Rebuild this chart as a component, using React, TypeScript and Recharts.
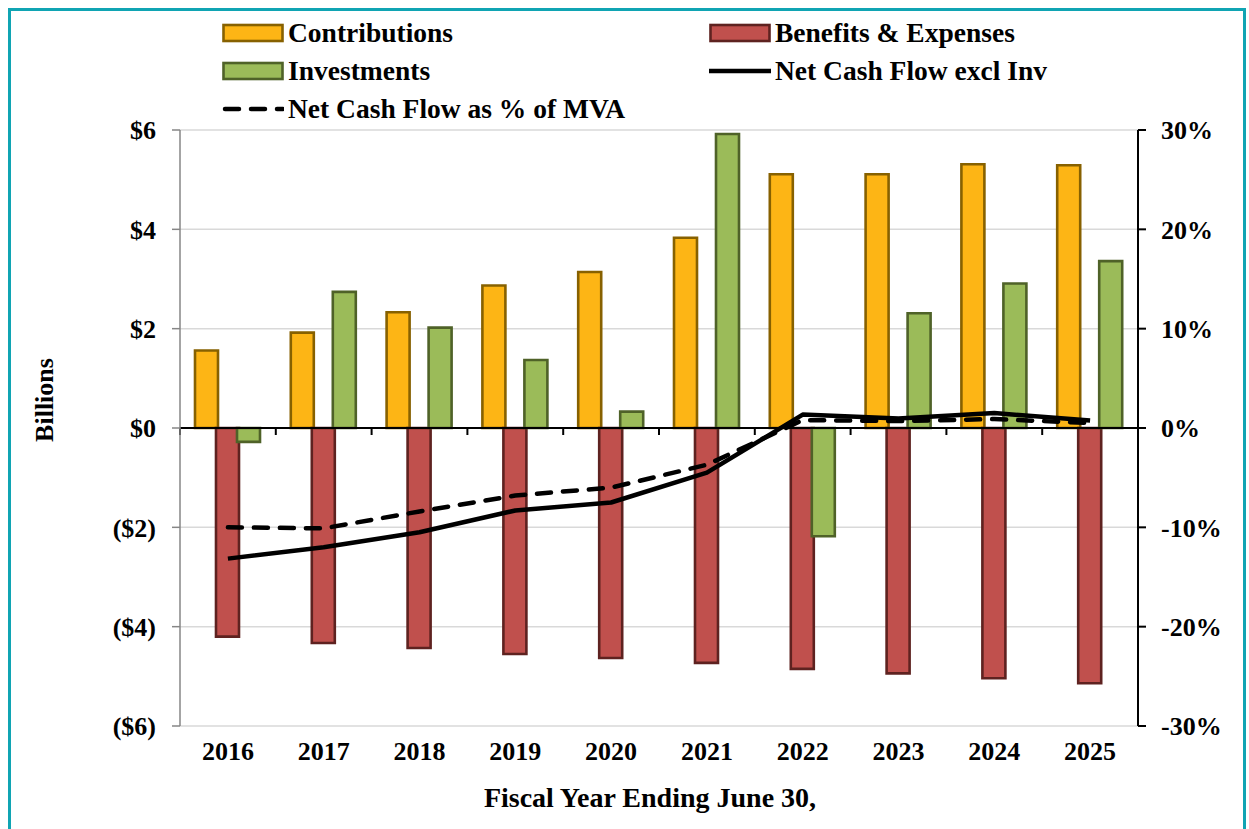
import React from 'react';
import { ComposedChart, Bar, Line, XAxis, YAxis, CartesianGrid, ReferenceLine } from 'recharts';

const years = ['2016', '2017', '2018', '2019', '2020', '2021', '2022', '2023', '2024', '2025'];
const contributions = [1.56, 1.92, 2.33, 2.87, 3.14, 3.83, 5.11, 5.11, 5.31, 5.29];
const benefitsExpenses = [-4.2, -4.33, -4.43, -4.55, -4.63, -4.73, -4.85, -4.94, -5.04, -5.14];
const investments = [-0.28, 2.74, 2.02, 1.37, 0.33, 5.92, -2.18, 2.31, 2.91, 3.36];
const netCashFlowExclInv = [-2.63, -2.4, -2.1, -1.66, -1.5, -0.9, 0.27, 0.19, 0.3, 0.15];
const netCashFlowPctMVA = [-0.1, -0.101, -0.084, -0.068, -0.06, -0.037, 0.008, 0.007, 0.009, 0.005];

const leftTicks = [-6, -4, -2, 0, 2, 4, 6];
const leftTickLabels = ['($6)', '($4)', '($2)', '$0', '$2', '$4', '$6'];
const rightTicks = [-0.3, -0.2, -0.1, 0, 0.1, 0.2, 0.3];
const rightTickLabels = ['-30%', '-20%', '-10%', '0%', '10%', '20%', '30%'];

const data = years.map((year, i) => ({
  year,
  contributions: contributions[i],
  benefits: benefitsExpenses[i],
  investments: investments[i],
  net: netCashFlowExclInv[i],
  pct: netCashFlowPctMVA[i],
}));

const FONT = "'Liberation Serif', 'Times New Roman', Times, serif";
const FS = 26;
const LEGEND_FS = 27.5;
const TITLE_FS = 28;

const C_FILL = '#FDB515';
const C_STROKE = '#876100';
const B_FILL = '#C0504D';
const B_STROKE = '#5E2220';
const I_FILL = '#9BBB59';
const I_STROKE = '#4F6228';
const BAR_SW = 2.6;

function ZeroLine(props: any) {
  const { x1, y1, x2, y2 } = props;
  const n = years.length;
  const ticks = [];
  for (let i = 0; i <= n; i++) {
    const x = x1 + ((x2 - x1) * i) / n;
    ticks.push(<line key={i} x1={x} x2={x} y1={y1} y2={y1 + 7} stroke="#000" strokeWidth={2} />);
  }
  return (
    <g>
      <line x1={x1} y1={y1} x2={x2} y2={y2} stroke="#000" strokeWidth={2} />
      {ticks}
    </g>
  );
}

const tickStyle = { fontFamily: FONT, fontSize: FS, fontWeight: 700, fill: '#000' };

function LegendItem({ left, centerY, kind, fill, stroke, label }: any) {
  return (
    <div
      style={{
        position: 'absolute',
        left,
        top: centerY - 19,
        height: 38,
        display: 'flex',
        alignItems: 'center',
        whiteSpace: 'nowrap',
      }}
    >
      <svg width={62} height={20} style={{ display: 'block' }}>
        {kind === 'rect' && <rect x={1.5} y={2} width={59} height={16} fill={fill} stroke={stroke} strokeWidth={2.6} />}
        {kind === 'line' && <line x1={0} x2={62} y1={10} y2={10} stroke="#000" strokeWidth={4.5} />}
        {kind === 'dash' && (
          <line x1={3} x2={61} y1={10} y2={10} stroke="#000" strokeWidth={4.5} strokeDasharray="14 12" strokeLinecap="round" />
        )}
      </svg>
      <span style={{ marginLeft: 4, fontFamily: FONT, fontSize: LEGEND_FS, fontWeight: 700, color: '#000', lineHeight: '38px' }}>
        {label}
      </span>
    </div>
  );
}

export default function App() {
  return (
    <div
      style={{
        position: 'absolute',
        left: 8,
        top: 8,
        width: 1238,
        height: 821,
        boxSizing: 'border-box',
        borderTop: '3px solid #10A4B3',
        borderLeft: '3px solid #10A4B3',
        borderRight: '3px solid #10A4B3',
        background: '#fff',
      }}
    >
      <div style={{ position: 'relative', width: 1232, height: 818 }}>
        <ComposedChart
          width={1232}
          height={818}
          data={data}
          margin={{ top: 119, right: 25, bottom: 43, left: 29 }}
          barSize={23}
          barGap={-2}
        >
          <CartesianGrid yAxisId="left" vertical={false} stroke="#D9D9D9" strokeWidth={1.5} />
          <XAxis
            dataKey="year"
            xAxisId={0}
            height={60}
            axisLine={false}
            tickLine={false}
            tickSize={6}
            tickMargin={10}
            tick={tickStyle}
            interval={0}
            label={{
              content: (p: any) => {
                const vb = p.viewBox;
                return (
                  <text
                    x={vb.x + vb.width / 2 - 9}
                    y={vb.y + vb.height + 21}
                    textAnchor="middle"
                    style={{ fontFamily: FONT, fontSize: TITLE_FS, fontWeight: 700 }}
                    fill="#000"
                  >
                    Fiscal Year Ending June 30,
                  </text>
                );
              },
            }}
          />
          <YAxis
            yAxisId="left"
            orientation="left"
            width={140}
            domain={[-6, 6]}
            ticks={leftTicks}
            tickFormatter={(v: number) => leftTickLabels[leftTicks.indexOf(v)] ?? String(v)}
            tick={tickStyle}
            tickSize={8}
            tickMargin={16}
            axisLine={{ stroke: '#868686', strokeWidth: 1.5 }}
            tickLine={{ stroke: '#868686', strokeWidth: 1.5 }}
            interval={0}
            label={{
              content: (p: any) => {
                const vb = p.viewBox;
                const cx = vb.x + 4;
                const cy = vb.y + vb.height / 2 - 28;
                return (
                  <text
                    x={cx}
                    y={cy}
                    transform={`rotate(-90, ${cx}, ${cy})`}
                    textAnchor="middle"
                    dominantBaseline="central"
                    style={{ fontFamily: FONT, fontSize: FS, fontWeight: 700 }}
                    fill="#000"
                  >
                    Billions
                  </text>
                );
              },
            }}
          />
          <YAxis
            yAxisId="right"
            orientation="right"
            width={80}
            domain={[-0.3, 0.3]}
            ticks={rightTicks}
            tickFormatter={(v: number) => {
              const idx = rightTicks.findIndex((t) => Math.abs(t - v) < 1e-9);
              return idx >= 0 ? rightTickLabels[idx] : String(v);
            }}
            tick={{ ...tickStyle, textAnchor: 'start' }}
            tickSize={8}
            tickMargin={15}
            axisLine={{ stroke: '#000', strokeWidth: 2 }}
            tickLine={{ stroke: '#000', strokeWidth: 2 }}
            interval={0}
          />
          <Bar yAxisId="left" dataKey="contributions" name="Contributions" fill={C_FILL} stroke={C_STROKE} strokeWidth={BAR_SW} isAnimationActive={false} />
          <Bar yAxisId="left" dataKey="benefits" name="Benefits & Expenses" fill={B_FILL} stroke={B_STROKE} strokeWidth={BAR_SW} isAnimationActive={false} />
          <Bar yAxisId="left" dataKey="investments" name="Investments" fill={I_FILL} stroke={I_STROKE} strokeWidth={BAR_SW} isAnimationActive={false} />
          <ReferenceLine yAxisId="left" y={0} shape={(p: any) => <ZeroLine {...p} />} />
          <Line
            yAxisId="left"
            dataKey="net"
            name="Net Cash Flow excl Inv"
            stroke="#000"
            strokeWidth={4.5}
            dot={false}
            activeDot={false}
            strokeLinejoin="round"
            isAnimationActive={false}
          />
          <Line
            yAxisId="right"
            dataKey="pct"
            name="Net Cash Flow as % of MVA"
            stroke="#000"
            strokeWidth={4.5}
            strokeDasharray="14 12"
            strokeLinecap="round"
            dot={false}
            activeDot={false}
            isAnimationActive={false}
          />
        </ComposedChart>
        <LegendItem left={211} centerY={22} kind="rect" fill={C_FILL} stroke={C_STROKE} label="Contributions" />
        <LegendItem left={698} centerY={22} kind="rect" fill={B_FILL} stroke={B_STROKE} label="Benefits & Expenses" />
        <LegendItem left={211} centerY={60} kind="rect" fill={I_FILL} stroke={I_STROKE} label="Investments" />
        <LegendItem left={698} centerY={60} kind="line" label="Net Cash Flow excl Inv" />
        <LegendItem left={211} centerY={98} kind="dash" label="Net Cash Flow as % of MVA" />
      </div>
    </div>
  );
}
